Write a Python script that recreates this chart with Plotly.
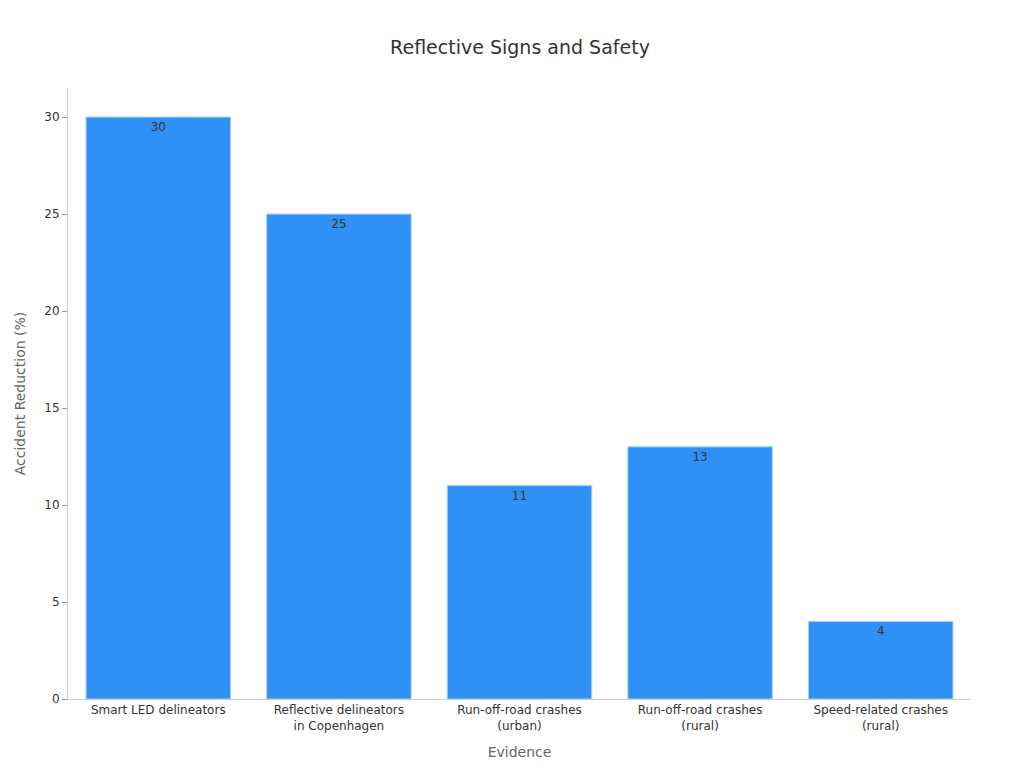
import plotly.graph_objects as go

categories = ["Smart LED delineators", "Reflective delineators<br>in Copenhagen",
              "Run-off-road crashes<br>(urban)", "Run-off-road crashes<br>(rural)",
              "Speed-related crashes<br>(rural)"]
values = [30, 25, 11, 13, 4]

fig = go.Figure(go.Bar(
    x=categories, y=values, text=values, textposition="inside",
    insidetextanchor="end", textfont=dict(color="#333333", size=12),
    marker=dict(color="#2f91f5", line=dict(color="#a9cdf7", width=1)),
    width=0.8,
))
fig.update_layout(
    width=1024, height=768,
    font=dict(family="DejaVu Sans", color="#333333", size=12),
    title=dict(text="Reflective Signs and Safety", x=0.5, y=0.957, xanchor="center",
               font=dict(size=19, color="#333333")),
    margin=dict(l=60, r=61, t=80, b=77),
    plot_bgcolor="white", paper_bgcolor="white",
    showlegend=False,
)
fig.update_xaxes(title=dict(text="Evidence", font=dict(color="#666666", size=14)),
                 showline=True, linecolor="#cccccc", ticks="", tickfont=dict(size=12))
fig.update_yaxes(title=dict(text="Accident Reduction (%)", font=dict(color="#666666", size=14)),
                 range=[0, 31.5], dtick=5, showgrid=False, zeroline=False,
                 showline=True, linecolor="#cccccc", ticks="outside", tickcolor="#999999",
                 ticklen=5)
fig.write_html("out.html")
